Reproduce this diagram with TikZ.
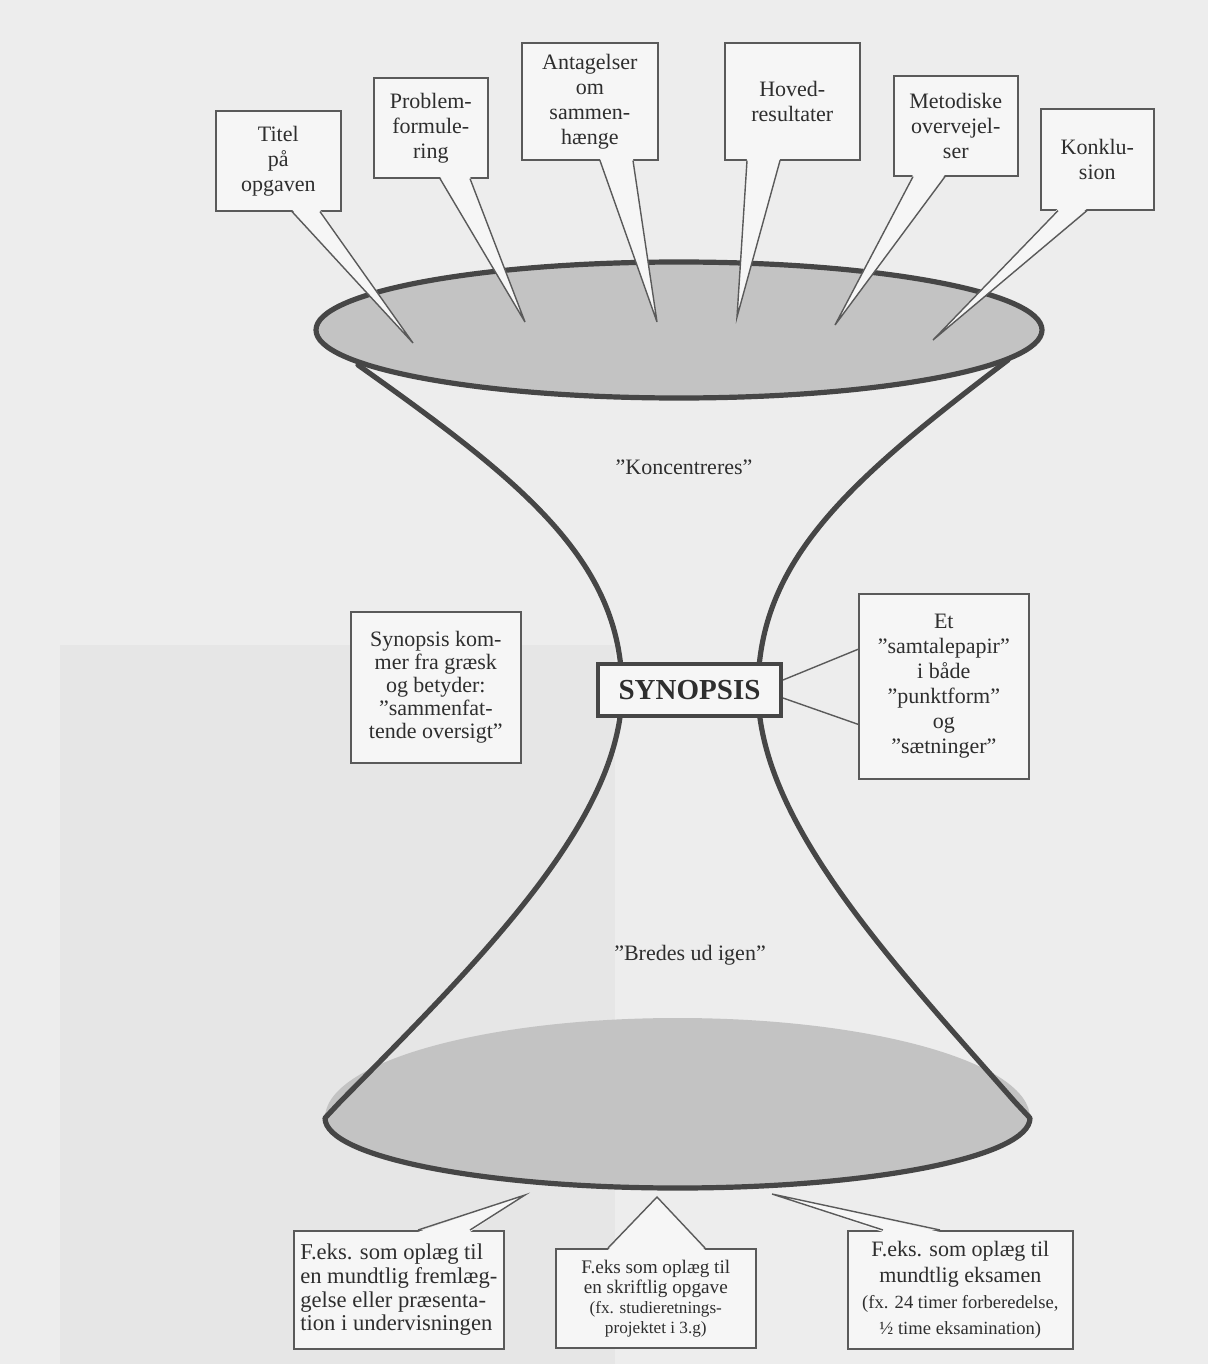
\documentclass[tikz,border=0pt]{standalone}
\usepackage{fontspec}
\setmainfont{Liberation Serif}
\usetikzlibrary{calc}
\definecolor{pagebg}{HTML}{EDEDED}
\definecolor{pagedark}{HTML}{E6E6E6}
\definecolor{boxfill}{HTML}{F6F6F6}
\definecolor{boxline}{HTML}{5A5A5A}
\definecolor{glassline}{HTML}{464646}
\definecolor{glassfill}{HTML}{C3C3C3}
\definecolor{txt}{HTML}{2E2E2E}
\newcommand\mytail[5]{%
  \fill[boxfill] ($(#1)+(#2,#5)$) -- (#4) -- ($(#1)+(#3,#5)$) -- cycle;
  \draw[tailline] ($(#1)+(#2,0)$) -- (#4) -- ($(#1)+(#3,0)$);}
\begin{document}
\begin{tikzpicture}[x=0.5pt,y=-0.5pt,
  callout/.style={draw=boxline, fill=boxfill, line width=0.8pt, align=center,
    inner sep=2pt, text=txt, anchor=north west, font=\fontsize{11}{12.5}\selectfont},
  tailline/.style={draw=boxline, line width=0.7pt, line join=miter},
  glass/.style={draw=glassline, line width=2.6pt, line join=round, line cap=round},
  label/.style={text=txt, font=\fontsize{11}{12.5}\selectfont}]
\useasboundingbox (0,0) rectangle (1208,1364);
\fill[pagebg] (0,0) rectangle (1208,1364);
\fill[pagedark] (60,645) rectangle (615,1364);

% top ellipse
\filldraw[glass, fill=glassfill] (679,330) ellipse [x radius=363, y radius=68];
% bottom ellipse fill
\fill[glassfill] (325,1118) arc[start angle=180, end angle=360, x radius=352.5, y radius=100]
  arc[start angle=0, end angle=180, x radius=352.5, y radius=70] -- cycle;
% hourglass outline
\draw[glass] (358,365) .. controls (520,480) and (622,560) .. (622,690)
  .. controls (622,820) and (480,960) .. (340,1102) -- (325,1118)
  arc[start angle=180, end angle=0, x radius=352.5, y radius=70]
  -- (1015,1102) .. controls (890,960) and (758,820) .. (758,690)
  .. controls (758,560) and (850,480) .. (1008,360);

\node[label] (konc) at (684,467) {”Koncentreres”};
\node[label] (bred) at (690,955) {”Bredes ud igen”};

% top callouts
\node[callout, minimum width=62.5pt, minimum height=50pt] (t1) at (215,110) {Titel\\på\\opgaven};
\node[callout, minimum width=57pt, minimum height=50pt] (t2) at (373,77) {Problem-\\formule-\\ring};
\node[callout, minimum width=68pt, minimum height=58.5pt] (t3) at (521,42) {Antagelser\\om\\sammen-\\hænge};
\node[callout, minimum width=67.5pt, minimum height=58.5pt] (t4) at (724,42) {Hoved-\\resultater};
\node[callout, minimum width=62pt, minimum height=50pt] (t5) at (893,75) {Metodiske\\overvejel-\\ser};
\node[callout, minimum width=56.5pt, minimum height=50.5pt] (t6) at (1040,108) {Konklu-\\sion};

\coordinate (p1) at (413,343);
\coordinate (p2) at (525,322);
\coordinate (p3) at (657,322);
\coordinate (p4) at (737,317);
\coordinate (p5) at (835,325);
\coordinate (p6) at (933,340);
\mytail{t1.south west}{77}{105}{p1}{-2}
\mytail{t2.south west}{67}{97}{p2}{-2}
\mytail{t3.south west}{79}{112}{p3}{-2}
\mytail{t4.south west}{23}{56}{p4}{-2}
\mytail{t5.south west}{20}{52}{p5}{-2}
\mytail{t6.south west}{18}{47}{p6}{-2}

% middle
\node[callout, minimum width=85pt, minimum height=75.5pt, font=\fontsize{11}{11.6}\selectfont] (lbox) at (350,611)
  {Synopsis kom-\\mer fra græsk\\og betyder:\\”sammenfat-\\tende oversigt”};
\node[callout, minimum width=85pt, minimum height=92.5pt] (rbox) at (858,593)
  {Et\\”samtalepapir”\\i både\\”punktform”\\og\\”sætninger”};
\node[draw=glassline, fill=boxfill, line width=2pt, minimum width=91.5pt, minimum height=26pt,
  text=txt, font=\fontsize{14.5}{16}\selectfont\bfseries] (syn) at (689.5,690) {SYNOPSIS};
\draw[tailline] ($(syn.east)+(0,-10)$) -- ($(rbox.west)+(0,-37)$);
\draw[tailline] ($(syn.east)+(0,8)$) -- ($(rbox.west)+(0,38)$);

% bottom callouts
\node[callout, minimum width=105pt, minimum height=59pt, align=left, font=\fontsize{11.3}{11.8}\selectfont] (ba) at (293,1230)
  {F.eks. som oplæg til\\en mundtlig fremlæg-\\gelse eller præsenta-\\tion i undervisningen};
\node[callout, minimum width=100pt, minimum height=49.5pt, font=\fontsize{9.6}{10}\selectfont] (bb) at (555,1248)
  {F.eks som oplæg til\\en skriftlig opgave\\{\fontsize{8.6}{10}\selectfont (fx. studieretnings-}\\{\fontsize{8.6}{10}\selectfont projektet i 3.g)}};
\node[callout, minimum width=112.5pt, minimum height=59pt, font=\fontsize{11}{13}\selectfont] (bc) at (847,1230)
  {F.eks. som oplæg til\\mundtlig eksamen\\{\fontsize{9.3}{11}\selectfont (fx. 24 timer forberedelse,}\\{\fontsize{9.3}{11}\selectfont ½ time eksamination)}};
\coordinate (qa) at (525,1195);
\coordinate (qb) at (657,1197);
\coordinate (qc) at (772,1194);
\mytail{ba.north west}{125}{177}{qa}{2}
\mytail{bb.north west}{53}{150}{qb}{2}
\mytail{bc.north west}{36}{93}{qc}{2}
\end{tikzpicture}
\end{document}
